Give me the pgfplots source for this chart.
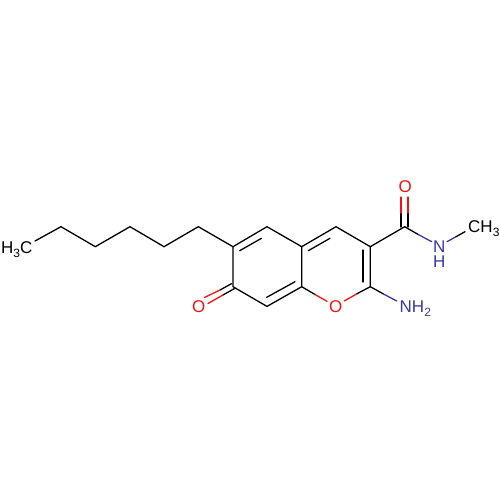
\documentclass[border=0pt]{standalone}
\usepackage{fontspec}
\setmainfont{Liberation Sans}
\usepackage{pgfplots}
\pgfplotsset{compat=1.18}
\definecolor{atomO}{HTML}{FF0D0D}
\definecolor{atomN}{HTML}{3838A8}
\pgfplotsset{
  bond/.style={no markers, line width=1.3pt, line join=round, line cap=round, color=#1},
  bond/.default=black
}
\newcommand{\atom}[3]{\node[anchor=base west, inner sep=0pt, font=\fontsize{17}{15}\selectfont, text=#3, align=left] at (axis cs:#1) {#2};}
\begin{document}
\begin{tikzpicture}
\useasboundingbox (0,0) rectangle (500pt,500pt);
\begin{axis}[
    hide axis,
    scale only axis,
    width=500pt, height=500pt,
    xmin=0, xmax=500, ymin=0, ymax=500,
    y dir=reverse,
    clip=false,
    at={(0,0)}, anchor=south west,
  ]
% hexyl chain and rings
\addplot[bond] coordinates {(35,241) (61,226.7) (95.3,246.7) (130,226.7) (164,246.7) (198.3,226.7) (233,246.7) (233,286.7) (267,306.4) (301.7,286.7) (301.7,246.7) (267,226.7) (233,246.7)};
\addplot[bond] coordinates {(301.7,246.7) (336,226.7) (370.3,246.7) (370.3,286.7)};
\addplot[bond] coordinates {(370.3,246.7) (404.7,226.7)};
% inner lines of double bonds
\addplot[bond] coordinates {(239.7,250.7) (261.5,238.3)};
\addplot[bond] coordinates {(266.7,297.3) (295,281.7)};
\addplot[bond] coordinates {(308.3,250.7) (330,238.3)};
\addplot[bond] coordinates {(363,250) (363,282)};
% C=O ketone
\addplot[bond] coordinates {(231.5,283.7) (220,290)};
\addplot[bond] coordinates {(234.5,288.5) (223,295)};
\addplot[bond=atomO] coordinates {(220,290) (204.5,297.5)};
\addplot[bond=atomO] coordinates {(223,295) (208,303.5)};
% ring oxygen
\addplot[bond] coordinates {(301.7,286.7) (315,294.5)};
\addplot[bond=atomO] coordinates {(315,294.5) (327,301.3)};
\addplot[bond=atomO] coordinates {(344.3,301) (357,293.7)};
\addplot[bond] coordinates {(357,293.7) (370.3,286.7)};
% amide C=O
\addplot[bond] coordinates {(401,227) (401,213)};
\addplot[bond] coordinates {(408,227) (408,213)};
\addplot[bond=atomO] coordinates {(401,213) (401,197)};
\addplot[bond=atomO] coordinates {(408,213) (408,197)};
% C-N, N-CH3, C-NH2
\addplot[bond] coordinates {(404.7,226.7) (418,234.4)};
\addplot[bond=atomN] coordinates {(418,234.4) (431.7,241.7)};
\addplot[bond=atomN] coordinates {(447,241.7) (456,236.7)};
\addplot[bond] coordinates {(456,236.7) (465,231.7)};
\addplot[bond] coordinates {(370.3,286.7) (383.5,294)};
\addplot[bond=atomN] coordinates {(383.5,294) (396.7,301)};
% atom labels
\atom{1,253.3}{H\raisebox{-4pt}{\fontsize{12}{12}\selectfont 3}C}{black}
\atom{192,312.7}{O}{atomO}
\atom{329,312.7}{O}{atomO}
\atom{398.5,193}{O}{atomO}
\atom{399.5,312.7}{NH\raisebox{-4pt}{\fontsize{12}{12}\selectfont 2}}{atomN}
\atom{433,268}{N\\H}{atomN}
\atom{468,233}{CH\raisebox{-4pt}{\fontsize{12}{12}\selectfont 3}}{black}
\end{axis}
\end{tikzpicture}
\end{document}
